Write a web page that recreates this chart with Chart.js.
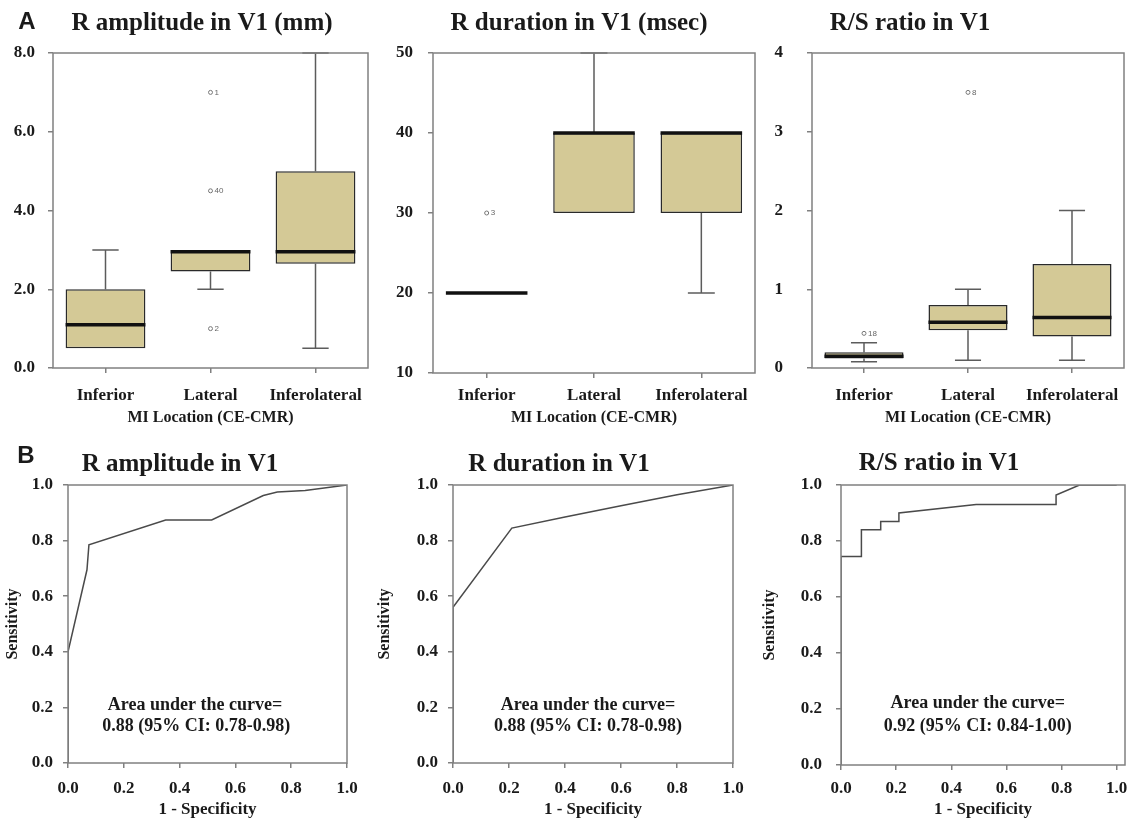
<!DOCTYPE html>
<html>
<head>
<meta charset="utf-8">
<script src="https://cdn.jsdelivr.net/npm/chart.js@4.4.1/dist/chart.umd.min.js"></script>
<style>
  body { margin: 0; background: #fff; }
  canvas { position: absolute; }
</style>
</head>
<body>
<canvas id="ampBox" width="375" height="430" style="left:0;top:0"></canvas>
<canvas id="durBox" width="385" height="430" style="left:375px;top:0"></canvas>
<canvas id="ratioBox" width="369" height="430" style="left:760px;top:0"></canvas>
<canvas id="ampRoc" width="375" height="395" style="left:0;top:430px"></canvas>
<canvas id="durRoc" width="385" height="395" style="left:370px;top:430px"></canvas>
<canvas id="ratioRoc" width="374" height="395" style="left:755px;top:430px"></canvas>
<script>
const locations = ['Inferior', 'Lateral', 'Inferolateral'];

// R amplitude in V1 (mm) - box plot values per location
const ampLow = [0.5, 2.0, 0.5];
const ampQ1 = [0.5, 2.45, 2.65];
const ampMedian = [1.1, 2.95, 2.95];
const ampQ3 = [2.0, 3.0, 5.0];
const ampHigh = [3.0, 3.0, 8.0];
const ampOutCat = ['Lateral', 'Lateral', 'Lateral'];
const ampOutVal = [7.0, 4.5, 1.0];
const ampOutId = ['1', '40', '2'];
const ampTicks = [0, 2, 4, 6, 8];
const ampTickLabels = ['0.0', '2.0', '4.0', '6.0', '8.0'];

// R duration in V1 (msec)
const durLow = [20, 30, 20];
const durQ1 = [20, 30, 30];
const durMedian = [20, 40, 40];
const durQ3 = [20, 40, 40];
const durHigh = [20, 50, 40];
const durOutCat = ['Inferior'];
const durOutVal = [30];
const durOutId = ['3'];
const durTicks = [10, 20, 30, 40, 50];
const durTickLabels = ['10', '20', '30', '40', '50'];

// R/S ratio in V1
const ratioLow = [0.08, 0.1, 0.1];
const ratioQ1 = [0.12, 0.48, 0.4];
const ratioMedian = [0.15, 0.58, 0.64];
const ratioQ3 = [0.2, 0.8, 1.32];
const ratioHigh = [0.32, 1.0, 2.0];
const ratioOutCat = ['Inferior', 'Lateral'];
const ratioOutVal = [0.44, 3.5];
const ratioOutId = ['18', '8'];
const ratioTicks = [0, 1, 2, 3, 4];
const ratioTickLabels = ['0', '1', '2', '3', '4'];

// ROC curves (1 - specificity, sensitivity)
const ampRocFpr = [0, 0, 0.068, 0.075, 0.35, 0.515, 0.70, 0.75, 0.85, 1.0];
const ampRocTpr = [0, 0.4, 0.695, 0.785, 0.874, 0.874, 0.962, 0.975, 0.98, 1.0];
const durRocFpr = [0, 0, 0.21, 0.4, 0.6, 0.8, 1.0];
const durRocTpr = [0, 0.56, 0.845, 0.885, 0.925, 0.965, 1.0];
const ratioRocFpr = [0, 0, 0.074, 0.074, 0.144, 0.144, 0.21, 0.21, 0.49, 0.78, 0.78, 0.865, 1.0];
const ratioRocTpr = [0, 0.745, 0.745, 0.84, 0.84, 0.87, 0.87, 0.9, 0.93, 0.93, 0.964, 1.0, 1.0];
const rocTicks = [0, 0.2, 0.4, 0.6, 0.8, 1.0];
const rocTickLabels = ['0.0', '0.2', '0.4', '0.6', '0.8', '1.0'];

const SERIF = "'Liberation Serif', 'Times New Roman', serif";
const SANS = "'Liberation Sans', Arial, sans-serif";
const BOX_FILL = '#d4c996';
const BOX_EDGE = '#2a2a2a';
const AXIS = '#808080';
const TEXT = '#1a1a1a';

// Frame around the plot area plus free text (titles, panel letters, notes)
function decorPlugin(d) {
  return {
    id: 'decor',
    afterDatasetsDraw(chart) {
      const { ctx, chartArea: a } = chart;
      ctx.save();
      ctx.strokeStyle = AXIS;
      ctx.lineWidth = 1.5;
      ctx.strokeRect(a.left, a.top, a.right - a.left, a.bottom - a.top);
      ctx.restore();
    },
    afterDraw(chart) {
      const { ctx, scales } = chart;
      ctx.save();
      ctx.fillStyle = TEXT;
      ctx.textAlign = 'center';
      ctx.textBaseline = 'middle';
      (d.texts || []).forEach((t) => {
        ctx.font = t.font;
        ctx.fillText(t.text, t.x, t.y);
      });
      (d.notes || []).forEach((n) => {
        ctx.font = 'bold 18px ' + SERIF;
        ctx.fillText(n.text, scales.x.getPixelForValue(n.x), scales.y.getPixelForValue(n.y));
      });
      ctx.restore();
    },
  };
}

// Whiskers, caps, medians and outlier ids for the box plots
function whiskerPlugin(s) {
  return {
    id: 'whiskers',
    beforeDatasetsDraw(chart) {
      const { ctx } = chart;
      const y = chart.scales.y;
      const bars = chart.getDatasetMeta(0).data;
      ctx.save();
      ctx.strokeStyle = '#5c5c5c';
      ctx.lineWidth = 1.5;
      bars.forEach((bar, i) => {
        const cap = bar.width * 0.33;
        [[s.q1[i], s.low[i]], [s.q3[i], s.high[i]]].forEach(([from, to]) => {
          if (from === to) return;
          const y0 = y.getPixelForValue(from);
          const y1 = y.getPixelForValue(to);
          ctx.beginPath();
          ctx.moveTo(bar.x, y0);
          ctx.lineTo(bar.x, y1);
          ctx.moveTo(bar.x - cap / 2, y1);
          ctx.lineTo(bar.x + cap / 2, y1);
          ctx.stroke();
        });
      });
      ctx.restore();
    },
    afterDatasetsDraw(chart) {
      const { ctx } = chart;
      const y = chart.scales.y;
      const bars = chart.getDatasetMeta(0).data;
      ctx.save();
      ctx.strokeStyle = '#111';
      ctx.lineWidth = 3.5;
      bars.forEach((bar, i) => {
        const ym = y.getPixelForValue(s.median[i]);
        ctx.beginPath();
        ctx.moveTo(bar.x - bar.width / 2, ym);
        ctx.lineTo(bar.x + bar.width / 2, ym);
        ctx.stroke();
      });
      ctx.fillStyle = '#666';
      ctx.font = '8px ' + SANS;
      ctx.textBaseline = 'middle';
      chart.getDatasetMeta(1).data.forEach((pt, i) => {
        ctx.fillText(s.outId[i], pt.x + 4, pt.y);
      });
      ctx.restore();
    },
  };
}

function tickGrid() {
  return { drawOnChartArea: false, drawTicks: true, tickLength: 5, color: AXIS, lineWidth: 1.5, offset: false };
}

function makeBoxChart(id, s) {
  return new Chart(document.getElementById(id), {
    type: 'bar',
    data: {
      labels: locations,
      datasets: [
        {
          label: 'IQR',
          data: s.q1.map((v, i) => [v, s.q3[i]]),
          backgroundColor: BOX_FILL,
          borderColor: BOX_EDGE,
          borderWidth: 1.5,
          borderSkipped: false,
          barPercentage: 0.76,
          categoryPercentage: 1,
          order: 2,
        },
        {
          type: 'line',
          label: 'Outliers',
          data: s.outCat.map((c, i) => ({ x: c, y: s.outVal[i] })),
          showLine: false,
          pointRadius: 2,
          pointBackgroundColor: '#fff',
          pointBorderColor: '#777',
          pointBorderWidth: 1,
          order: 1,
        },
      ],
    },
    options: {
      responsive: false,
      animation: false,
      layout: { padding: { top: 53, right: s.padR, left: 0, bottom: 0 } },
      plugins: { legend: { display: false }, tooltip: { enabled: false } },
      scales: {
        x: {
          offset: true,
          grid: tickGrid(),
          border: { display: false },
          ticks: { font: { family: SERIF, size: 17, weight: 'bold' }, color: TEXT, padding: s.xPad },
          title: {
            display: true,
            text: 'MI Location (CE-CMR)',
            font: { family: SERIF, size: 16, weight: 'bold' },
            color: TEXT,
            padding: { top: 0, bottom: 3 },
          },
          afterFit: (sc) => { sc.height = s.xH; sc.paddingLeft = 0; sc.paddingRight = 0; },
        },
        y: {
          min: s.ticks[0],
          max: s.ticks[s.ticks.length - 1],
          grid: tickGrid(),
          border: { display: false },
          afterBuildTicks: (sc) => { sc.ticks = s.ticks.map((v) => ({ value: v })); },
          ticks: {
            font: { family: SERIF, size: 17, weight: 'bold' },
            color: TEXT,
            padding: s.yPad,
            callback: (v, i) => s.tickLabels[i],
          },
          afterFit: (sc) => { sc.width = s.yW; sc.paddingTop = 0; sc.paddingBottom = 0; },
        },
      },
    },
    plugins: [whiskerPlugin(s), decorPlugin(s)],
  });
}

function makeRocChart(id, s) {
  return new Chart(document.getElementById(id), {
    type: 'line',
    data: {
      datasets: [{
        label: 'ROC',
        data: s.fpr.map((v, i) => ({ x: v, y: s.tpr[i] })),
        borderColor: '#4a4a4a',
        borderWidth: 1.5,
        pointRadius: 0,
        tension: 0,
        fill: false,
      }],
    },
    options: {
      responsive: false,
      animation: false,
      layout: { padding: { top: 55, right: s.padR, left: 0, bottom: 0 } },
      plugins: { legend: { display: false }, tooltip: { enabled: false } },
      scales: {
        x: {
          type: 'linear',
          min: 0,
          max: s.xMax || 1,
          grid: tickGrid(),
          border: { display: false },
          afterBuildTicks: (sc) => { sc.ticks = rocTicks.map((v) => ({ value: v })); },
          ticks: {
            font: { family: SERIF, size: 17, weight: 'bold' },
            color: TEXT,
            padding: s.xPad,
            callback: (v, i) => rocTickLabels[i],
          },
          title: {
            display: true,
            text: '1 - Specificity',
            font: { family: SERIF, size: 17, weight: 'bold' },
            color: TEXT,
            padding: { top: 0, bottom: 5 },
          },
          afterFit: (sc) => { sc.height = s.xH; sc.paddingLeft = 0; sc.paddingRight = 0; },
        },
        y: {
          min: 0,
          max: 1,
          grid: tickGrid(),
          border: { display: false },
          afterBuildTicks: (sc) => { sc.ticks = rocTicks.map((v) => ({ value: v })); },
          ticks: {
            font: { family: SERIF, size: 17, weight: 'bold' },
            color: TEXT,
            padding: s.yPad,
            callback: (v, i) => rocTickLabels[i],
          },
          title: {
            display: true,
            text: 'Sensitivity',
            font: { family: SERIF, size: 16, weight: 'bold' },
            color: TEXT,
            padding: { top: s.yTitlePad, bottom: 0 },
          },
          afterFit: (sc) => { sc.width = s.yW; sc.paddingTop = 0; sc.paddingBottom = 0; },
        },
      },
    },
    plugins: [decorPlugin(s)],
  });
}

const titleFont = 'bold 25px ' + SERIF;
const letterFont = 'bold 24px ' + SANS;

makeBoxChart('ampBox', {
  low: ampLow, q1: ampQ1, median: ampMedian, q3: ampQ3, high: ampHigh,
  outCat: ampOutCat, outVal: ampOutVal, outId: ampOutId,
  ticks: ampTicks, tickLabels: ampTickLabels,
  yW: 53, xH: 62, padR: 7, yPad: 13, xPad: 12,
  texts: [
    { text: 'A', x: 27, y: 22, font: letterFont },
    { text: 'R amplitude in V1 (mm)', x: 202, y: 23.5, font: titleFont },
  ],
});

makeBoxChart('durBox', {
  low: durLow, q1: durQ1, median: durMedian, q3: durQ3, high: durHigh,
  outCat: durOutCat, outVal: durOutVal, outId: durOutId,
  ticks: durTicks, tickLabels: durTickLabels,
  yW: 58, xH: 57, padR: 3, yPad: 15, xPad: 7,
  texts: [{ text: 'R duration in V1 (msec)', x: 204, y: 23.5, font: titleFont }],
});

makeBoxChart('ratioBox', {
  low: ratioLow, q1: ratioQ1, median: ratioMedian, q3: ratioQ3, high: ratioHigh,
  outCat: ratioOutCat, outVal: ratioOutVal, outId: ratioOutId,
  ticks: ratioTicks, tickLabels: ratioTickLabels,
  yW: 52, xH: 62, padR: 2, yPad: 24, xPad: 12,
  texts: [{ text: 'R/S ratio in V1', x: 150, y: 23.5, font: titleFont }],
});

makeRocChart('ampRoc', {
  fpr: ampRocFpr, tpr: ampRocTpr,
  yW: 68, xH: 62, padR: 28, yPad: 10, xPad: 10, yTitlePad: 3,
  texts: [
    { text: 'B', x: 26, y: 26, font: letterFont },
    { text: 'R amplitude in V1', x: 180, y: 34.5, font: titleFont },
  ],
  notes: [
    { text: 'Area under the curve=', x: 0.455, y: 0.209 },
    { text: '0.88 (95% CI: 0.78-0.98)', x: 0.46, y: 0.133 },
  ],
});

makeRocChart('durRoc', {
  fpr: durRocFpr, tpr: durRocTpr,
  yW: 83, xH: 62, padR: 22, yPad: 10, xPad: 10, yTitlePad: 5,
  texts: [{ text: 'R duration in V1', x: 189, y: 34.5, font: titleFont }],
  notes: [
    { text: 'Area under the curve=', x: 0.482, y: 0.209 },
    { text: '0.88 (95% CI: 0.78-0.98)', x: 0.482, y: 0.133 },
  ],
});

makeRocChart('ratioRoc', {
  fpr: ratioRocFpr, tpr: ratioRocTpr, xMax: 1.03,
  yW: 86, xH: 60, padR: 4, yPad: 14, xPad: 8, yTitlePad: 5,
  texts: [{ text: 'R/S ratio in V1', x: 184, y: 33.5, font: titleFont }],
  notes: [
    { text: 'Area under the curve=', x: 0.496, y: 0.221 },
    { text: '0.92 (95% CI: 0.84-1.00)', x: 0.496, y: 0.139 },
  ],
});
</script>
</body>
</html>
